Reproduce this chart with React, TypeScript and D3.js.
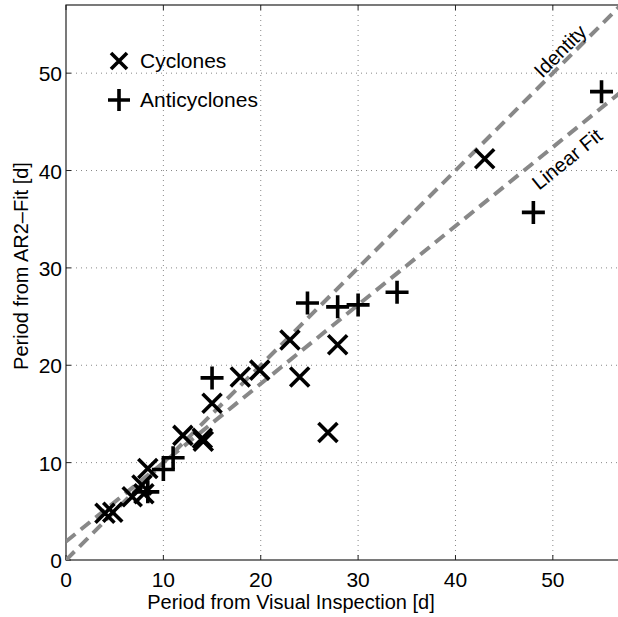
import React, { useEffect, useRef } from 'react'
import * as d3 from 'd3'

// Cyclones: [visual inspection, AR2-fit] in days
const cyclones: [number, number][] = [
  [4.0, 4.8], [4.8, 4.9], [6.8, 6.5], [7.8, 7.7], [8.0, 6.8], [8.4, 9.4],
  [12.0, 12.8], [14.0, 12.5], [14.1, 12.2], [15.0, 16.1], [17.9, 18.8],
  [19.9, 19.5], [23.0, 22.6], [24.0, 18.8], [26.9, 13.1], [27.9, 22.1],
  [43.0, 41.2]
]

const anticyclones: [number, number][] = [
  [8.4, 7.0], [10.0, 9.3], [11.0, 10.5], [15.0, 18.7], [24.8, 26.4],
  [27.9, 26.0], [30.0, 26.2], [34.0, 27.5], [48.0, 35.7], [55.0, 48.1]
]

const ticks = [0, 10, 20, 30, 40, 50]
const fitIntercept = 1.9
const fitSlope = 0.81

const W = 618
const H = 617
const left = 66
const right = 621
const top = 5
const bottom = 560
const font = 'Liberation Sans, Arial, Helvetica, sans-serif'

export default function App() {
  const ref = useRef<SVGSVGElement>(null)

  useEffect(() => {
    const svg = d3.select(ref.current)
    svg.selectAll('*').remove()

    const x = d3.scaleLinear().domain([0, 57]).range([left, right])
    const y = d3.scaleLinear().domain([0, 57]).range([bottom, top])

    svg.append('rect').attr('width', W).attr('height', H).attr('fill', 'white')

    // grid
    const grid = svg.append('g').attr('stroke', '#888').attr('stroke-width', 1).attr('stroke-dasharray', '1,4')
    ticks.slice(1).forEach(t => {
      grid.append('line').attr('x1', x(t)).attr('x2', x(t)).attr('y1', top).attr('y2', bottom)
      grid.append('line').attr('x1', left).attr('x2', right).attr('y1', y(t)).attr('y2', y(t))
    })

    // tick marks
    const tk = svg.append('g').attr('stroke', '#222').attr('stroke-width', 1)
    ticks.forEach(t => {
      tk.append('line').attr('x1', x(t)).attr('x2', x(t)).attr('y1', bottom).attr('y2', bottom - 5)
      tk.append('line').attr('x1', x(t)).attr('x2', x(t)).attr('y1', top).attr('y2', top + 5)
      tk.append('line').attr('x1', left).attr('x2', left + 5).attr('y1', y(t)).attr('y2', y(t))
    })

    // frame
    svg.append('rect')
      .attr('x', left).attr('y', top)
      .attr('width', right - left).attr('height', bottom - top)
      .attr('fill', 'none').attr('stroke', '#222').attr('stroke-width', 1.2)

    // reference lines
    const clip = svg.append('clipPath').attr('id', 'plotclip')
    clip.append('rect').attr('x', left).attr('y', top).attr('width', right - left).attr('height', bottom - top)
    const lines = svg.append('g').attr('clip-path', 'url(#plotclip)')
      .attr('stroke', '#888').attr('stroke-width', 4).attr('stroke-dasharray', '12,7').attr('fill', 'none')
    lines.append('line').attr('x1', x(0)).attr('y1', y(0)).attr('x2', x(57)).attr('y2', y(57))
    lines.append('line').attr('x1', x(0)).attr('y1', y(fitIntercept))
      .attr('x2', x(57)).attr('y2', y(fitIntercept + fitSlope * 57))

    // line labels
    svg.append('text')
      .attr('transform', `translate(560,51) rotate(-45)`)
      .attr('text-anchor', 'middle').attr('dy', '0.35em')
      .attr('font-family', font).attr('font-size', 20).text('Identity')
    const fitAngle = -Math.atan(fitSlope) * 180 / Math.PI
    svg.append('text')
      .attr('transform', `translate(567,159) rotate(${fitAngle})`)
      .attr('text-anchor', 'middle').attr('dy', '0.35em')
      .attr('font-family', font).attr('font-size', 20).text('Linear Fit')

    // markers
    const cross = (g: any, cx: number, cy: number, r: number) => {
      g.append('path').attr('d', `M${cx - r},${cy - r}L${cx + r},${cy + r}M${cx - r},${cy + r}L${cx + r},${cy - r}`)
    }
    const plus = (g: any, cx: number, cy: number, r: number) => {
      g.append('path').attr('d', `M${cx - r},${cy}L${cx + r},${cy}M${cx},${cy - r}L${cx},${cy + r}`)
    }
    const marks = svg.append('g').attr('stroke', '#000').attr('stroke-width', 3.6).attr('fill', 'none')
    cyclones.forEach(d => cross(marks, x(d[0]), y(d[1]), 9.5))
    anticyclones.forEach(d => plus(marks, x(d[0]), y(d[1]), 11.5))

    // legend
    cross(marks, 119, 61, 8)
    plus(marks, 119, 100, 11)
    svg.append('text').attr('x', 140).attr('y', 68).attr('font-family', font).attr('font-size', 21).text('Cyclones')
    svg.append('text').attr('x', 140).attr('y', 107).attr('font-family', font).attr('font-size', 21).text('Anticyclones')

    // tick labels
    ticks.forEach(t => {
      svg.append('text').attr('x', x(t)).attr('y', bottom + 27).attr('text-anchor', 'middle')
        .attr('font-family', font).attr('font-size', 21).text(t)
      svg.append('text').attr('x', left - 4).attr('y', y(t) + 8).attr('text-anchor', 'end')
        .attr('font-family', font).attr('font-size', 21).text(t)
    })

    // axis labels
    svg.append('text').attr('x', 291).attr('y', 609).attr('text-anchor', 'middle')
      .attr('font-family', font).attr('font-size', 20).text('Period from Visual Inspection [d]')
    svg.append('text').attr('transform', `translate(28,266) rotate(-90)`).attr('text-anchor', 'middle')
      .attr('font-family', font).attr('font-size', 20).text('Period from AR2\u2013Fit [d]')
  }, [])

  return (
    <svg ref={ref} width={W} height={H}
      style={{ position: 'absolute', left: 0, top: 0, display: 'block' }} />
  )
}
